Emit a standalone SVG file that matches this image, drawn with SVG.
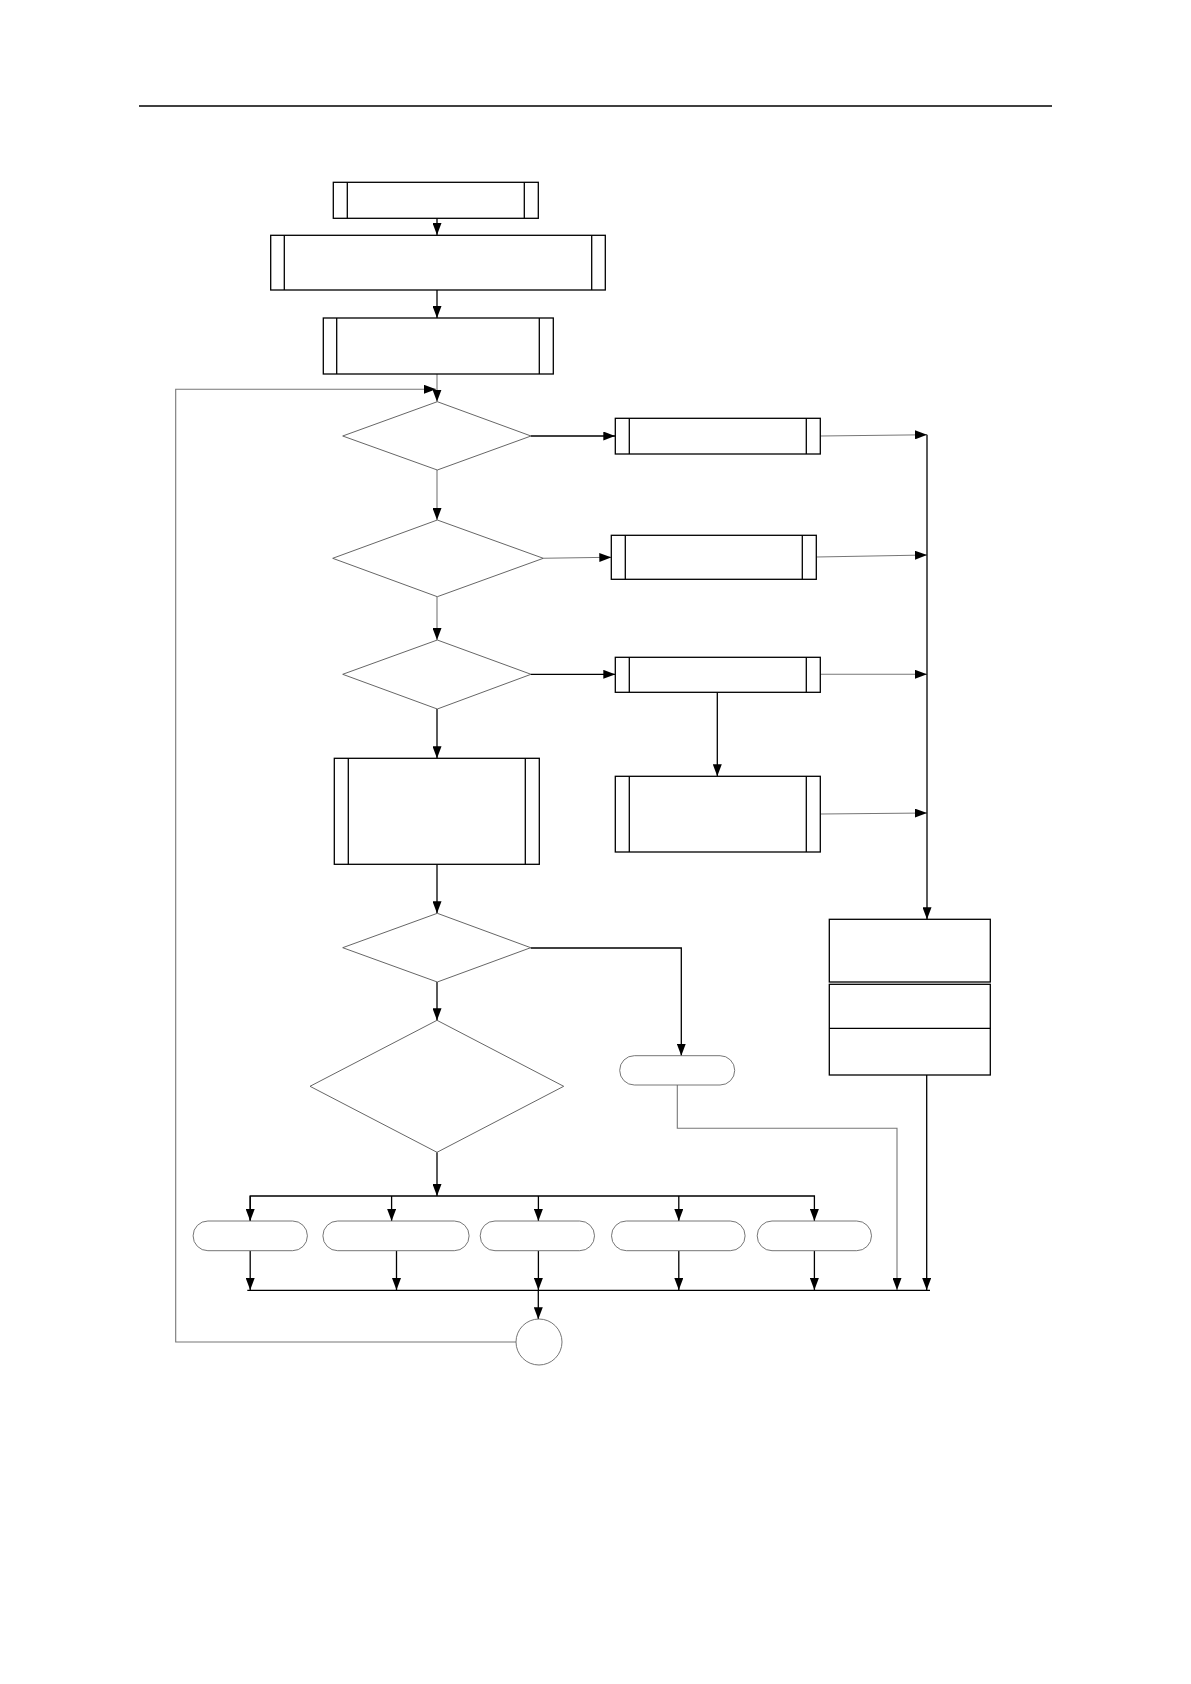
<svg xmlns="http://www.w3.org/2000/svg" width="1191" height="1684" viewBox="0 0 1191 1684">
<defs>
<marker id="ah" markerUnits="userSpaceOnUse" markerWidth="12" markerHeight="9" refX="12" refY="4.5" orient="auto"><path d="M0,0 L12,4.5 L0,9 z" fill="#000"/></marker>
<style>
.box{fill:#fff;stroke:#000;stroke-width:1.3}
.in{stroke:#000;stroke-width:1.3}
.dia{fill:#fff;stroke:#555;stroke-width:0.9}
.term{fill:#fff;stroke:#666;stroke-width:0.9}
.c{fill:none;stroke:#000;stroke-width:1.3}
.g{fill:none;stroke:#777;stroke-width:1.1}
</style>
</defs>
<rect width="1191" height="1684" fill="#fff"/>
<line x1="139" y1="106" x2="1052" y2="106" stroke="#000" stroke-width="1.3"/>
<g id="connectors">
<path class="c" d="M437,218 V235" marker-end="url(#ah)"/>
<path class="c" d="M437,290 V318" marker-end="url(#ah)"/>
<path class="g" d="M437,374 V401.7" marker-end="url(#ah)"/>
<path class="g" d="M516,1342 H175.7 V389.3 H436" marker-end="url(#ah)"/>
<path class="c" d="M531,436 H615.3" marker-end="url(#ah)"/>
<path class="g" d="M437,470 V520" marker-end="url(#ah)"/>
<path class="g" d="M543.3,558.3 L611.3,557.3" marker-end="url(#ah)"/>
<path class="g" d="M437,596.7 V640" marker-end="url(#ah)"/>
<path class="c" d="M531,674.3 H615.3" marker-end="url(#ah)"/>
<path class="c" d="M437,709 V758.3" marker-end="url(#ah)"/>
<path class="g" d="M820.3,436 L927,434.7" marker-end="url(#ah)"/>
<path class="g" d="M816.3,557 L927,555" marker-end="url(#ah)"/>
<path class="g" d="M820.3,674.3 H927" marker-end="url(#ah)"/>
<path class="c" d="M717.3,692.3 V776.3" marker-end="url(#ah)"/>
<path class="g" d="M820.3,814 L927,813" marker-end="url(#ah)"/>
<path class="c" d="M927,434.7 V919.3" marker-end="url(#ah)"/>
<path class="c" d="M437,864.3 V913.3" marker-end="url(#ah)"/>
<path class="c" d="M437,982 V1020.3" marker-end="url(#ah)"/>
<path class="c" d="M530.7,948 H681.3 V1055.7" marker-end="url(#ah)"/>
<path class="g" d="M677.3,1085 V1128.3 H897 V1290" marker-end="url(#ah)"/>
<path class="c" d="M926.7,1075 V1290" marker-end="url(#ah)"/>
<path class="c" d="M437,1152.3 V1196" marker-end="url(#ah)"/>
<path class="c" d="M250.2,1221 V1196 H814.4 V1221" marker-end="url(#ah)"/>
<path class="c" d="M391.6,1196 V1221" marker-end="url(#ah)"/>
<path class="c" d="M538.4,1196 V1221" marker-end="url(#ah)"/>
<path class="c" d="M678.8,1196 V1221" marker-end="url(#ah)"/>
<path class="c" d="M250.2,1196 V1221" marker-end="url(#ah)"/>
<path class="c" d="M250.2,1250.7 V1290" marker-end="url(#ah)"/>
<path class="c" d="M396.5,1250.7 V1290" marker-end="url(#ah)"/>
<path class="c" d="M538.4,1250.7 V1290" marker-end="url(#ah)"/>
<path class="c" d="M678.8,1250.7 V1290" marker-end="url(#ah)"/>
<path class="c" d="M814.4,1250.7 V1290" marker-end="url(#ah)"/>
<path class="c" d="M247.3,1290.3 H930"/>
<path class="c" d="M538.3,1290.3 V1319.3" marker-end="url(#ah)"/>
</g>
<g id="p1"><rect class="box" x="333.3" y="182.3" width="205" height="36"/><line class="in" x1="347.3" y1="182.3" x2="347.3" y2="218.3"/><line class="in" x1="524.3" y1="182.3" x2="524.3" y2="218.3"/></g>
<g id="p2"><rect class="box" x="270.7" y="235.3" width="334.6" height="54.7"/><line class="in" x1="284.3" y1="235.3" x2="284.3" y2="290"/><line class="in" x1="591.7" y1="235.3" x2="591.7" y2="290"/></g>
<g id="p3"><rect class="box" x="323.3" y="318" width="230" height="56"/><line class="in" x1="336.7" y1="318" x2="336.7" y2="374"/><line class="in" x1="539.3" y1="318" x2="539.3" y2="374"/></g>
<g id="d1"><polygon class="dia" points="437.3,401.7 531,436 437.3,470 342.7,436"/></g>
<g id="d2"><polygon class="dia" points="437.3,520 543.3,558.3 437.3,596.7 332.7,558.3"/></g>
<g id="d3"><polygon class="dia" points="437.3,640 531,674.3 437.3,709 342.7,674.3"/></g>
<g id="r1"><rect class="box" x="615.3" y="418.3" width="205" height="35.7"/><line class="in" x1="629.3" y1="418.3" x2="629.3" y2="454"/><line class="in" x1="806.3" y1="418.3" x2="806.3" y2="454"/></g>
<g id="r2"><rect class="box" x="611.3" y="535.3" width="205" height="44"/><line class="in" x1="625.3" y1="535.3" x2="625.3" y2="579.3"/><line class="in" x1="802.3" y1="535.3" x2="802.3" y2="579.3"/></g>
<g id="r3"><rect class="box" x="615.3" y="657.3" width="205" height="35"/><line class="in" x1="629.3" y1="657.3" x2="629.3" y2="692.3"/><line class="in" x1="806.3" y1="657.3" x2="806.3" y2="692.3"/></g>
<g id="r4"><rect class="box" x="615.3" y="776.3" width="205" height="75.7"/><line class="in" x1="629.3" y1="776.3" x2="629.3" y2="852"/><line class="in" x1="806.3" y1="776.3" x2="806.3" y2="852"/></g>
<g id="p4"><rect class="box" x="334.3" y="758.3" width="205" height="106"/><line class="in" x1="348.3" y1="758.3" x2="348.3" y2="864.3"/><line class="in" x1="525.3" y1="758.3" x2="525.3" y2="864.3"/></g>
<g id="d4"><polygon class="dia" points="437.3,913.3 530.7,947.7 437.3,982 342.7,947.7"/></g>
<g id="d5"><polygon class="dia" points="437,1020.3 563.7,1086.3 437,1152.3 310,1086.3"/></g>
<g id="t0"><rect class="term" x="619.7" y="1055.7" width="115" height="29.3" rx="14.6"/></g>
<g id="s1"><rect class="box" x="829.3" y="919.3" width="161" height="62.7"/></g>
<g id="s2"><rect class="box" x="829.3" y="984.3" width="161" height="90.7"/><line class="in" x1="829.3" y1="1028.3" x2="990.3" y2="1028.3"/></g>
<g id="t1"><rect class="term" x="193.1" y="1221" width="114.3" height="29.7" rx="14.8"/></g>
<g id="t2"><rect class="term" x="322.9" y="1221" width="146.2" height="29.7" rx="14.8"/></g>
<g id="t3"><rect class="term" x="480.2" y="1221" width="114.3" height="29.7" rx="14.8"/></g>
<g id="t4"><rect class="term" x="611.5" y="1221" width="133.6" height="29.7" rx="14.8"/></g>
<g id="t5"><rect class="term" x="757.2" y="1221" width="114.3" height="29.7" rx="14.8"/></g>
<g id="end"><circle class="term" cx="539" cy="1342" r="23"/></g>
</svg>
